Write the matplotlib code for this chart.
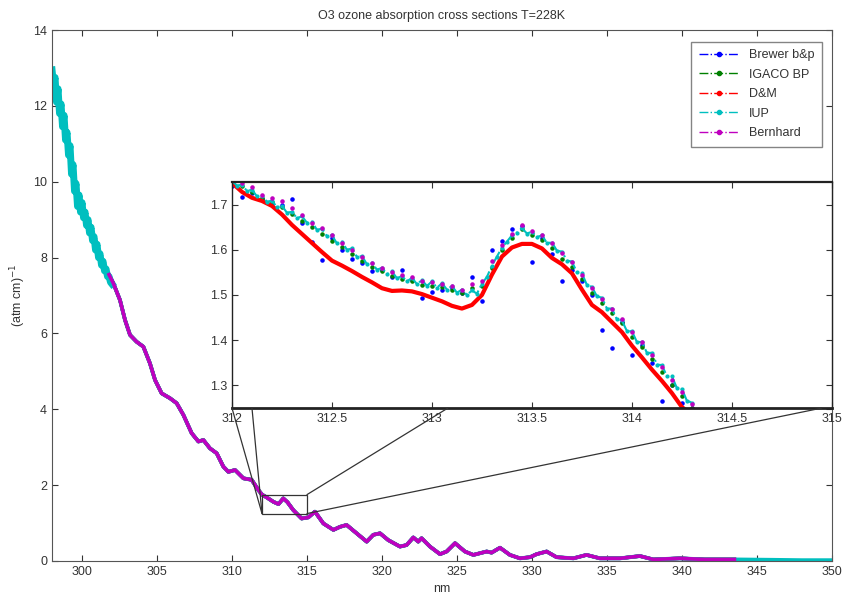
import matplotlib.pyplot as plt
from matplotlib.lines import Line2D
from matplotlib.patches import Rectangle, ConnectionPatch
import numpy as np

plt.rcParams['font.family'] = ['Liberation Sans', 'DejaVu Sans']

# --- main curve ---
# IUP noisy start, 298-302 nm
iup_head_nm = np.linspace(298.0, 302.0, 41)
iup_head = [12.95, 12.55, 12.75, 12.10, 12.45, 11.80, 12.05, 11.45, 11.75, 11.10,
            11.30, 10.70, 10.95, 10.20, 10.45, 9.75, 9.95, 9.35, 9.65, 9.20,
            9.45, 9.05, 9.20, 8.85, 9.00, 8.65, 8.80, 8.45, 8.55, 8.20,
            8.35, 8.00, 8.10, 7.80, 7.90, 7.65, 7.70, 7.50, 7.50, 7.35, 7.30]

body_nm = [301.8, 302.09, 302.53, 302.87, 303.2, 303.64, 304.09, 304.53, 304.87, 305.31,
           305.87, 306.31, 306.76, 307.31, 307.76, 308.09, 308.53, 308.98, 309.42, 309.76,
           310.2, 310.76, 311.31, 311.76, 312.0, 312.3, 312.76, 313.1, 313.42, 313.7,
           314.09, 314.64, 315.09, 315.53, 316.09, 316.76, 317.2, 317.64, 318.31, 318.98,
           319.42, 319.87, 320.42, 321.2, 321.64, 322.09, 322.42, 322.64, 323.2, 323.87,
           324.31, 324.87, 325.53, 326.09, 326.98, 327.31, 327.87, 328.53, 329.2, 329.87,
           330.31, 330.98, 331.64, 332.76, 333.64, 334.53, 335.87, 337.2, 338.09, 339.87,
           341.5, 343.5]
body = [7.55, 7.32, 6.88, 6.35, 5.96, 5.78, 5.65, 5.21, 4.77, 4.42,
        4.29, 4.16, 3.85, 3.37, 3.15, 3.19, 2.97, 2.84, 2.49, 2.35,
        2.40, 2.18, 2.14, 1.87, 1.75, 1.68, 1.56, 1.50, 1.65, 1.55,
        1.34, 1.12, 1.15, 1.30, 0.99, 0.82, 0.90, 0.95, 0.73, 0.51,
        0.69, 0.73, 0.55, 0.38, 0.42, 0.62, 0.51, 0.60, 0.38, 0.18,
        0.25, 0.47, 0.25, 0.16, 0.25, 0.22, 0.35, 0.16, 0.07, 0.10,
        0.18, 0.25, 0.10, 0.07, 0.16, 0.07, 0.07, 0.13, 0.04, 0.07,
        0.04, 0.04]

iup_tail_nm = [343.5, 346.0, 348.0, 350.0]
iup_tail = [0.04, 0.03, 0.02, 0.02]

# --- inset data (312-314.3 nm) ---
grid = np.linspace(312.0, 314.3, 47)
grid_iup = np.linspace(312.0, 314.3, 93)

brewer = [1.740, 1.716, 1.725, 1.712, 1.700, 1.700, 1.712, 1.660, 1.617, 1.578,
          1.625, 1.600, 1.580, 1.570, 1.553, 1.555, 1.540, 1.555, 1.533, 1.493,
          1.507, 1.512, 1.515, 1.505, 1.540, 1.487, 1.600, 1.620, 1.645, 1.652,
          1.573, 1.625, 1.590, 1.532, 1.555, 1.530, 1.500, 1.423, 1.383, 1.440,
          1.367, 1.390, 1.350, 1.265, 1.300, 1.262, 1.250]
igaco = [1.755, 1.740, 1.728, 1.715, 1.705, 1.695, 1.680, 1.664, 1.650, 1.636,
         1.620, 1.606, 1.590, 1.576, 1.562, 1.552, 1.542, 1.536, 1.532, 1.522,
         1.520, 1.518, 1.512, 1.505, 1.515, 1.520, 1.560, 1.600, 1.625, 1.645,
         1.632, 1.622, 1.605, 1.580, 1.562, 1.535, 1.505, 1.482, 1.460, 1.438,
         1.408, 1.385, 1.358, 1.330, 1.302, 1.276, 1.250]
dm = [1.748, 1.728, 1.715, 1.708, 1.697, 1.678, 1.655, 1.635, 1.615, 1.595,
      1.576, 1.565, 1.553, 1.540, 1.528, 1.515, 1.509, 1.510, 1.508, 1.502,
      1.494, 1.486, 1.476, 1.470, 1.478, 1.500, 1.545, 1.585, 1.605, 1.613,
      1.613, 1.603, 1.582, 1.568, 1.548, 1.512, 1.478, 1.462, 1.440, 1.418,
      1.388, 1.362, 1.335, 1.310, 1.283, 1.252, 1.235]
iup = [1.752, 1.742, 1.744, 1.730, 1.733, 1.718, 1.720, 1.706, 1.709, 1.694,
       1.697, 1.682, 1.684, 1.670, 1.674, 1.660, 1.662, 1.644, 1.647, 1.630,
       1.632, 1.614, 1.618, 1.600, 1.603, 1.584, 1.586, 1.568, 1.571, 1.556,
       1.560, 1.546, 1.552, 1.537, 1.542, 1.530, 1.538, 1.524, 1.533, 1.520,
       1.530, 1.516, 1.526, 1.512, 1.520, 1.505, 1.512, 1.500, 1.510, 1.503,
       1.525, 1.540, 1.565, 1.585, 1.605, 1.618, 1.632, 1.638, 1.648, 1.636,
       1.640, 1.628, 1.632, 1.615, 1.616, 1.598, 1.596, 1.576, 1.574, 1.550,
       1.548, 1.522, 1.518, 1.497, 1.494, 1.470, 1.470, 1.446, 1.444, 1.420,
       1.420, 1.396, 1.396, 1.372, 1.372, 1.346, 1.345, 1.320, 1.320, 1.294,
       1.292, 1.266, 1.262]
bernhard = [1.760, 1.748, 1.738, 1.722, 1.715, 1.708, 1.692, 1.678, 1.660, 1.648,
            1.633, 1.615, 1.600, 1.585, 1.570, 1.560, 1.550, 1.545, 1.540, 1.530,
            1.528, 1.525, 1.520, 1.512, 1.525, 1.530, 1.575, 1.610, 1.636, 1.655,
            1.642, 1.632, 1.616, 1.592, 1.572, 1.545, 1.515, 1.492, 1.470, 1.448,
            1.418, 1.395, 1.368, 1.340, 1.312, 1.285, 1.258]

labels = ['Brewer b&p', 'IGACO BP', 'D&M', 'IUP', 'Bernhard']
colors = ['#0000ff', '#008000', '#ff0000', '#00bfbf', '#bf00bf']

zoom_x = [312, 315]
zoom_y = [1.25, 1.75]
# where the connector lines leave the inset's bottom edge (inset nm)
conn_start = [312.0, 312.1, 313.08, 314.95]
conn_end = [(312, 1.25), (312, 1.25), (315, 1.75), (315, 1.25)]

txt = '#333333'
fig = plt.figure(figsize=(8.42, 5.98), dpi=100)
ax = fig.add_axes([0.0618, 0.0619, 0.9262, 0.8879])

body_nm = np.array(body_nm)
for c in colors[:3]:
    ax.plot(body_nm, body, color=c, lw=2.5)
ax.plot(iup_head_nm, iup_head, color=colors[3], lw=5)
ax.plot(np.concatenate([[iup_head_nm[-1]], body_nm, iup_tail_nm]),
        np.concatenate([[iup_head[-1]], body, iup_tail]), color=colors[3], lw=2.8)
ax.plot(body_nm, body, color=colors[4], lw=2.6)

ax.set_xlim(298, 350)
ax.set_ylim(0, 14)
ax.set_xticks(np.arange(300, 351, 5))
ax.set_yticks(np.arange(0, 15, 2))
ax.tick_params(direction='in', top=True, right=True, labelsize=9, colors=txt, length=4)
for s in ax.spines.values():
    s.set_color('#555555')
ax.set_title('O3 ozone absorption cross sections T=228K', fontsize=9, color=txt, pad=8)
ax.set_xlabel('nm', fontsize=9, color=txt, labelpad=4)
ax.set_ylabel('(atm cm)$^{-1}$', fontsize=9, color=txt)
ax.yaxis.set_label_coords(-0.031, 0.5)

handles = [Line2D([], [], color=c, ls='-.', marker='.', ms=6, lw=1) for c in colors]
leg = ax.legend(handles, labels, loc='upper right', bbox_to_anchor=(0.995, 0.99),
                fontsize=9, handlelength=3.2, fancybox=False, edgecolor='#666666',
                borderpad=0.6, labelspacing=0.6)
for t in leg.get_texts():
    t.set_color(txt)

ax.add_patch(Rectangle((zoom_x[0], zoom_y[0]), zoom_x[1] - zoom_x[0], zoom_y[1] - zoom_y[0],
                       fill=False, ec='#333333', lw=0.9, zorder=5))

# inset
axi = fig.add_axes([0.2755, 0.3177, 0.7125, 0.378])
axi.plot(grid, brewer, color=colors[0], ls='none', marker='.', ms=4.5)
axi.plot(grid, igaco, color=colors[1], ls='none', marker='.', ms=4.5)
axi.plot(grid, dm, color=colors[2], lw=3)
axi.plot(grid_iup, iup, color=colors[3], ls='-.', lw=1.5, marker='.', ms=4)
axi.plot(grid, bernhard, color=colors[4], ls='none', marker='.', ms=4.5)
axi.set_xlim(*zoom_x)
axi.set_ylim(*zoom_y)
axi.set_xticks(np.arange(312, 315.1, 0.5))
axi.set_xticklabels(['312', '312.5', '313', '313.5', '314', '314.5', '315'])
axi.set_yticks([1.3, 1.4, 1.5, 1.6, 1.7])
axi.tick_params(direction='in', top=True, right=True, labelsize=9, colors=txt, length=4)
for s in axi.spines.values():
    s.set_color('#222222')
    s.set_linewidth(1.0)
axi.spines['bottom'].set_linewidth(2)
axi.spines['top'].set_linewidth(1.6)

for x0, xy in zip(conn_start, conn_end):
    cp = ConnectionPatch(xyA=(x0, zoom_y[0]), coordsA=axi.transData,
                         xyB=xy, coordsB=ax.transData, color='#333333', lw=0.9)
    fig.add_artist(cp)

fig.savefig('out.png', dpi=100)
